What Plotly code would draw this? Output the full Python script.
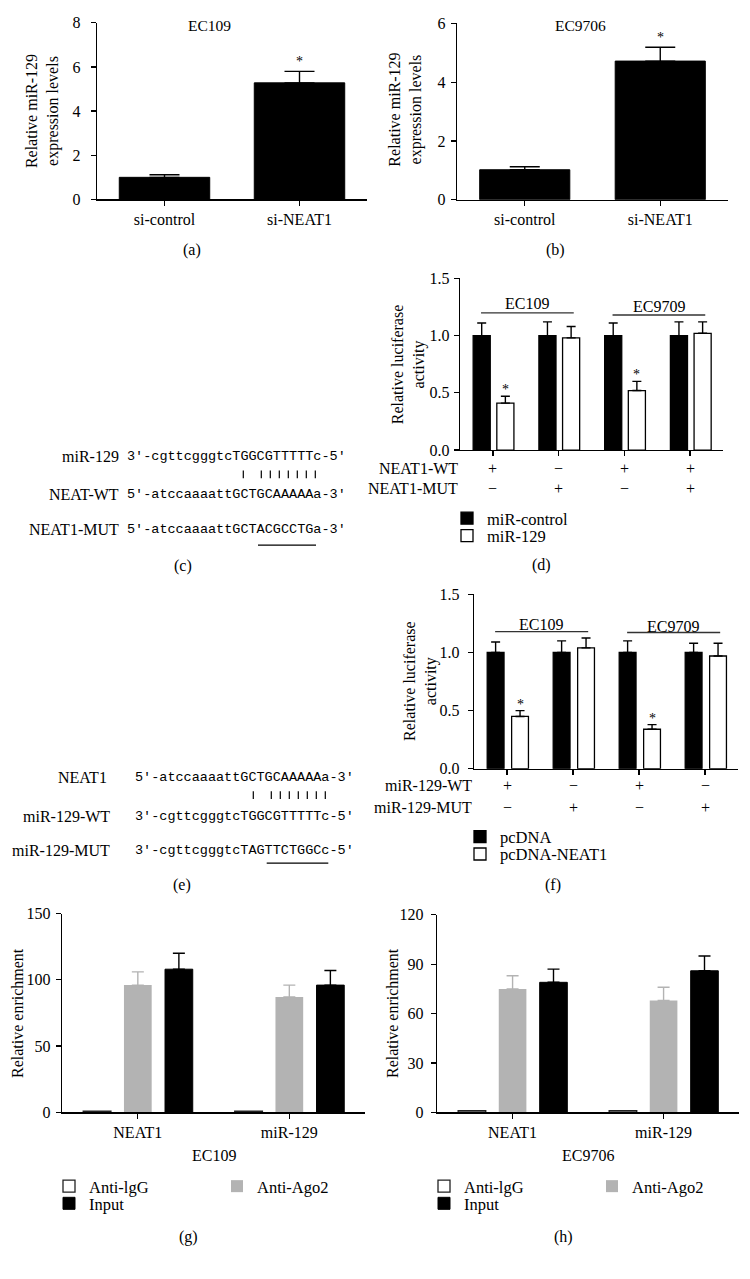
import plotly.graph_objects as go

W, H = 750, 1279
SERIF = "Liberation Serif"
MONO = "Liberation Mono"

# ---------------- data ----------------
a_categories = ["si-control", "si-NEAT1"]
a_values = [1.0, 5.28]
a_errors = [0.12, 0.52]
a_sig = ["", "*"]

b_categories = ["si-control", "si-NEAT1"]
b_values = [1.02, 4.72]
b_errors = [0.10, 0.47]
b_sig = ["", "*"]

d_groups = ["EC109-WT", "EC109-MUT", "EC9709-WT", "EC9709-MUT"]
d_mir_control = [1.0, 1.0, 1.0, 1.0]
d_mir_control_err = [0.11, 0.12, 0.11, 0.12]
d_mir129 = [0.41, 0.98, 0.52, 1.02]
d_mir129_err = [0.06, 0.10, 0.08, 0.10]
d_sig = ["*", "", "*", ""]
d_wt = ["+", "\u2212", "+", "+"]
d_mut = ["\u2212", "+", "\u2212", "+"]

f_groups = ["EC109-WT", "EC109-MUT", "EC9709-WT", "EC9709-MUT"]
f_pcdna = [1.0, 1.0, 1.0, 1.0]
f_pcdna_err = [0.09, 0.10, 0.10, 0.08]
f_pcdna_neat1 = [0.45, 1.04, 0.34, 0.97]
f_pcdna_neat1_err = [0.05, 0.085, 0.04, 0.11]
f_sig = ["*", "", "*", ""]
f_wt = ["+", "\u2212", "+", "\u2212"]
f_mut = ["\u2212", "+", "\u2212", "+"]

g_categories = ["NEAT1", "miR-129"]
g_igg = [1.0, 1.0]
g_ago2 = [96, 87]
g_ago2_err = [10, 9]
g_input = [108, 96]
g_input_err = [12, 11]

h_categories = ["NEAT1", "miR-129"]
h_igg = [1.0, 1.0]
h_ago2 = [75, 68]
h_ago2_err = [8, 8]
h_input = [79, 86]
h_input_err = [8, 9]

seq_c_labels = ["miR-129", "NEAT-WT", "NEAT1-MUT"]
seq_c = ["3\u2032-cgttcgggtcTGGCGTTTTTc-5\u2032",
         "5\u2032-atccaaaattGCTGCAAAAAa-3\u2032",
         "5\u2032-atccaaaattGCTACGCCTGa-3\u2032"]
seq_e_labels = ["NEAT1", "miR-129-WT", "miR-129-MUT"]
seq_e = ["5\u2032-atccaaaattGCTGCAAAAAa-3\u2032",
         "3\u2032-cgttcgggtcTGGCGTTTTTc-5\u2032",
         "3\u2032-cgttcgggtcTAGTTCTGGCc-5\u2032"]
pairing = "| |||||||"


def X(px):
    return px / W


def Y(py):
    return 1 - py / H


fig = go.Figure()


def err(arr, color="black", width=4.5):
    return dict(type="data", array=arr, arrayminus=[0] * len(arr), symmetric=False,
                color=color, thickness=1.4, width=width, visible=True)


# (a)
fig.add_trace(go.Bar(x=a_categories, y=a_values, width=0.67, marker=dict(color="black", line=dict(color="black", width=1)),
                     error_y=err(a_errors, width=15), xaxis="x", yaxis="y", showlegend=False))
# (b)
fig.add_trace(go.Bar(x=b_categories, y=b_values, width=0.665, marker=dict(color="black", line=dict(color="black", width=1)),
                     error_y=err(b_errors, width=15), xaxis="x2", yaxis="y2", showlegend=False))
# (d)
D_OFF = (-0.30, 0.06)
D_W = 0.26
fig.add_trace(go.Bar(x=d_groups, y=d_mir_control, offset=D_OFF[0], width=D_W, name="miR-control",
                     marker=dict(color="black", line=dict(color="black", width=1.3)),
                     error_y=err(d_mir_control_err), xaxis="x3", yaxis="y3", legend="legend"))
fig.add_trace(go.Bar(x=d_groups, y=d_mir129, offset=D_OFF[1], width=D_W, name="miR-129",
                     marker=dict(color="white", line=dict(color="black", width=1.3)),
                     error_y=err(d_mir129_err), xaxis="x3", yaxis="y3", legend="legend2"))
# (f)
F_OFF = (-0.30, 0.07)
F_W = 0.255
fig.add_trace(go.Bar(x=f_groups, y=f_pcdna, offset=F_OFF[0], width=F_W, name="pcDNA",
                     marker=dict(color="black", line=dict(color="black", width=1.3)),
                     error_y=err(f_pcdna_err), xaxis="x4", yaxis="y4", legend="legend3"))
fig.add_trace(go.Bar(x=f_groups, y=f_pcdna_neat1, offset=F_OFF[1], width=F_W, name="pcDNA-NEAT1",
                     marker=dict(color="white", line=dict(color="black", width=1.3)),
                     error_y=err(f_pcdna_neat1_err), xaxis="x4", yaxis="y4", legend="legend4"))
# (g) and (h)
G_OFF = (-0.36, -0.091, 0.18)
G_W = 0.183
GRAY = "#b3b3b3"
for xa, ya, cats, igg, ago, ago_e, inp, inp_e, legs in [
    ("x5", "y5", g_categories, g_igg, g_ago2, g_ago2_err, g_input, g_input_err, ("legend5", "legend6", "legend7")),
    ("x6", "y6", h_categories, h_igg, h_ago2, h_ago2_err, h_input, h_input_err, ("legend8", "legend9", "legend10")),
]:
    fig.add_trace(go.Bar(x=cats, y=igg, offset=G_OFF[0], width=G_W, name="Anti-lgG",
                         marker=dict(color="white", line=dict(color="#222222", width=1.3)),
                         xaxis=xa, yaxis=ya, legend=legs[0]))
    fig.add_trace(go.Bar(x=cats, y=ago, offset=G_OFF[1], width=G_W, name="Anti-Ago2",
                         marker=dict(color=GRAY, line=dict(color=GRAY, width=0)),
                         error_y=err(ago_e, color=GRAY, width=6), xaxis=xa, yaxis=ya, legend=legs[1]))
    fig.add_trace(go.Bar(x=cats, y=inp, offset=G_OFF[2], width=G_W, name="Input",
                         marker=dict(color="black", line=dict(color="black", width=1)),
                         error_y=err(inp_e, width=6), xaxis=xa, yaxis=ya, legend=legs[2]))

TICKFONT = dict(family=SERIF, size=16, color="black")


def xaxis(x0, x1, anchor, n, show=True):
    return dict(domain=[X(x0), X(x1)], anchor=anchor, range=[-0.5, n - 0.5], showline=True, linecolor="black",
                linewidth=1.3, ticks="outside", ticklen=5, tickwidth=1.3, tickcolor="black", showgrid=False,
                zeroline=False, showticklabels=show, tickfont=TICKFONT, fixedrange=True)


def yaxis(top, bottom, anchor, rng, dtick, fmt="", standoff=2):
    return dict(domain=[Y(bottom), Y(top)], anchor=anchor, range=rng, dtick=dtick, tick0=0, tickformat=fmt,
                showline=True, linecolor="black", linewidth=1.3, ticks="outside", ticklen=5, tickwidth=1.3,
                tickcolor="black", showgrid=False, zeroline=False, tickfont=TICKFONT, fixedrange=True,
                ticklabelstandoff=standoff)


legend_common = dict(bgcolor="rgba(0,0,0,0)", borderwidth=0, xanchor="left", yanchor="middle",
                     font=dict(family=SERIF, size=16.5, color="black"), orientation="v")


def leg(sq_left, cy):
    d = dict(legend_common)
    d.update(x=X(sq_left - 14), y=Y(cy))
    return d


fig.update_layout(
    width=W, height=H, margin=dict(l=0, r=0, t=0, b=0), paper_bgcolor="white", plot_bgcolor="white",
    barmode="overlay", font=dict(family=SERIF, size=16, color="black"), hovermode=False,
    xaxis=xaxis(97, 367, "y", 2), yaxis=yaxis(15, 194, "x", [0, 8], 2, standoff=7),
    xaxis2=xaxis(457, 728, "y2", 2), yaxis2=yaxis(15.7, 194.3, "x2", [0, 6], 2),
    xaxis3=xaxis(460, 723, "y3", 4, show=False), yaxis3=yaxis(274, 448, "x3", [0, 1.5], 0.5, ".1f", standoff=1),
    xaxis4=xaxis(474, 738, "y4", 4, show=False), yaxis4=yaxis(594.3, 771, "x4", [0, 1.5], 0.5, ".1f", standoff=5),
    xaxis5=xaxis(62, 365, "y5", 2), yaxis5=yaxis(917.7, 1119.3, "x5", [0, 150], 50),
    xaxis6=xaxis(437, 739, "y6", 2), yaxis6=yaxis(919, 1119.3, "x6", [0, 120], 30, standoff=4),
    legend=leg(461, 517.3), legend2=leg(461, 535),
    legend3=leg(474, 840), legend4=leg(474, 857.7),
    legend5=leg(63, 1194.3), legend6=leg(231, 1194.3), legend7=leg(63, 1211.7),
    legend8=leg(438, 1194.3), legend9=leg(606, 1194.3), legend10=leg(438, 1211.7),
)

ann = []


def text(x, y, t, size=16, xanchor="center", family=SERIF, angle=0, xref="paper", yref="paper", yanchor="middle"):
    ann.append(dict(x=x, y=y, text=t, showarrow=False, xref=xref, yref=yref, xanchor=xanchor, yanchor=yanchor,
                    textangle=angle, font=dict(family=family, size=size, color="black")))


# titles and axis labels
text(X(209.5), Y(17.5), "EC109", 15.5)
text(X(580), Y(18), "EC9706", 15.5)
text(X(42.5), Y(105), "Relative miR-129<br>expression levels", 16, angle=-90)
text(X(406), Y(103), "Relative miR-129<br>expression levels", 16, angle=-90)
text(X(408), Y(361), "Relative luciferase<br>activity", 16, angle=-90)
text(X(420.5), Y(682.5), "Relative luciferase<br>activity", 16, angle=-90)
text(X(18), Y(1018.5), "Relative enrichment", 16, angle=-90)
text(X(393), Y(1018.5), "Relative enrichment", 16, angle=-90)
text(X(213.5), Y(1163), "EC109", 16)
text(X(588), Y(1163), "EC9706", 16)

# panel letters
for lab, xx, yy in [("(a)", 192, 245), ("(b)", 555, 245), ("(c)", 183, 566), ("(d)", 541.7, 565),
                    ("(e)", 181.7, 889.3), ("(f)", 553.3, 889.3), ("(g)", 188.3, 1246), ("(h)", 563.3, 1246)]:
    text(X(xx), Y(yy), lab, 16)

# significance stars
for i, s in enumerate(a_sig):
    if s:
        text(i, a_values[i] + a_errors[i], s, 14, xref="x", yref="y", yanchor="bottom")
for i, s in enumerate(b_sig):
    if s:
        text(i, b_values[i] + b_errors[i], s, 14, xref="x2", yref="y2", yanchor="bottom")
for i, s in enumerate(d_sig):
    if s:
        ann.append(dict(x=i + D_OFF[1] + D_W / 2, y=d_mir129[i] + d_mir129_err[i], text=s, showarrow=False,
                        xref="x3", yref="y3", yanchor="bottom", yshift=-3, font=dict(family=SERIF, size=14, color="black")))
for i, s in enumerate(f_sig):
    if s:
        ann.append(dict(x=i + F_OFF[1] + F_W / 2, y=f_pcdna_neat1[i] + f_pcdna_neat1_err[i], text=s, showarrow=False,
                        xref="x4", yref="y4", yanchor="bottom", yshift=-3, font=dict(family=SERIF, size=14, color="black")))

# +/- rows
text(X(460), Y(466.7), "NEAT1-WT", 16, xanchor="right")
text(X(460), Y(487.3), "NEAT1-MUT", 16, xanchor="right")
for i in range(4):
    text(i, Y(466.7), d_wt[i], 16, xref="x3")
    text(i, Y(487.3), d_mut[i], 16, xref="x3")
text(X(474), Y(788.3), "miR-129-WT", 16, xanchor="right")
text(X(474), Y(810), "miR-129-MUT", 16, xanchor="right")
for i in range(4):
    text(i, Y(788.3), f_wt[i], 16, xref="x4")
    text(i, Y(810), f_mut[i], 16, xref="x4")

# cell line brackets
shapes = []
for xa, ya, y_line, texts in [("x3", "y3", (1.198, 1.18), ((0.525, 1.276, "EC109"), (2.525, 1.253, "EC9709"))),
                              ("x4", "y4", (1.18, 1.172), ((0.52, 1.245, "EC109"), (2.52, 1.223, "EC9709")))]:
    shapes.append(dict(type="line", xref=xa, yref=ya, x0=-0.18, x1=1.23, y0=y_line[0], y1=y_line[0],
                       line=dict(color="#333333", width=1.3)))
    shapes.append(dict(type="line", xref=xa, yref=ya, x0=1.82, x1=3.23, y0=y_line[1], y1=y_line[1],
                       line=dict(color="#333333", width=1.3)))
    for tx, ty, tt in texts:
        text(tx, ty, tt, 16, xref=xa, yref=ya)

# sequences (c)
c_rows = [454.3, 492.7, 528.3]
for lab, seq, yy in zip(seq_c_labels, seq_c, c_rows):
    text(X(121), Y(yy), lab, 16, xanchor="right")
    text(X(125), Y(yy), seq, 13.5, xanchor="left", family=MONO)
# (e)
e_rows = [780, 819.3, 854]
e_right = [108.5, 112, 112]
for lab, seq, yy, rr in zip(seq_e_labels, seq_e, e_rows, e_right):
    text(X(rr), Y(yy), lab, 16, xanchor="right")
    text(X(133.3), Y(yy), seq, 13.5, xanchor="left", family=MONO)

# pairing ticks and mutation underlines
for start, yc in [(243.3, 472.7), (253.3, 797.7)]:
    for k, ch in enumerate(pairing):
        if ch == "|":
            xx = start + 9.0 * k
            shapes.append(dict(type="line", xref="paper", yref="paper", x0=X(xx), x1=X(xx), y0=Y(yc - 4), y1=Y(yc + 4),
                               line=dict(color="black", width=1.2)))
for x0, x1, yy in [(258, 316, 544.3), (266.7, 328.3, 866.7)]:
    shapes.append(dict(type="line", xref="paper", yref="paper", x0=X(x0), x1=X(x1), y0=Y(yy), y1=Y(yy),
                       line=dict(color="black", width=1.2)))

fig.update_layout(annotations=ann, shapes=shapes)
fig.write_html(
    "out.html",
    config={"displayModeBar": False, "staticPlot": True},
    post_script="document.documentElement.style.margin='0';document.body.style.margin='0';"
                "document.body.style.padding='0';document.body.style.overflow='hidden';",
)
